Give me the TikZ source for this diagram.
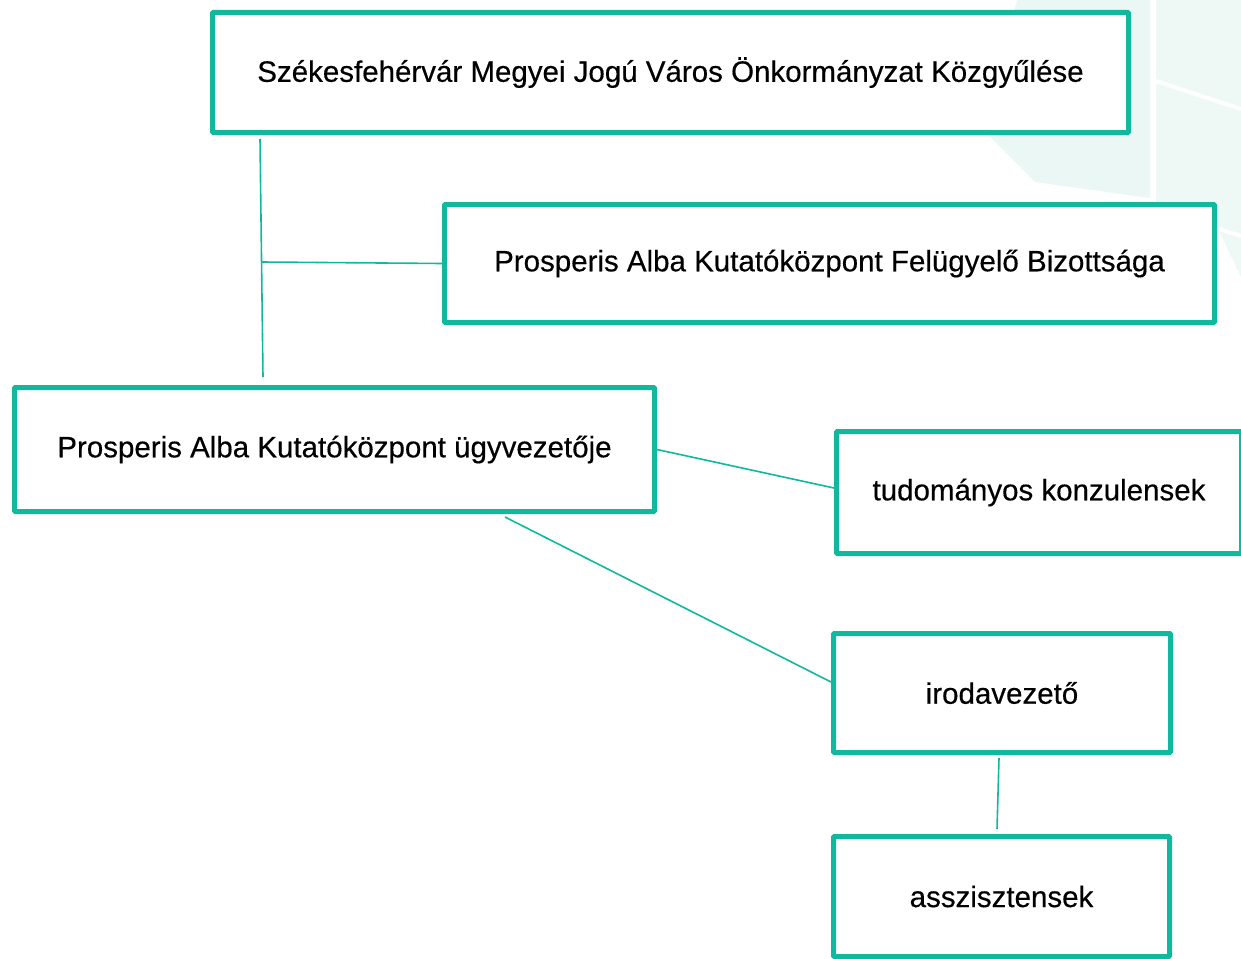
\documentclass[tikz,border=0pt]{standalone}
\usepackage{fontspec}
\setmainfont{Liberation Sans}
\newfontfamily\labfont{Liberation Sans}[FakeBold=0.4]
\usetikzlibrary{calc}
\definecolor{teal1}{RGB}{16,185,157}
\definecolor{shadeA}{RGB}{234,247,244}
\definecolor{shadeB}{RGB}{238,249,246}
\begin{document}
\begin{tikzpicture}[x=1pt,y=-1pt,
  box/.style={draw=teal1,line width=5pt,fill=white,rounded corners=1pt,inner sep=0pt,
    font=\labfont\fontsize{29.5}{34}\selectfont,text=black},
  conn/.style={draw=teal1,line width=1.6pt}]
\useasboundingbox (0,0) rectangle (1241,958);
\fill[white] (0,0) rectangle (1241,958);
% background decoration
\fill[shadeA] (1017,0) -- (1150,0) -- (1150,198) -- (1035,182) -- (985,132) -- cycle;
\fill[shadeB] (1156,0) -- (1241,0) -- (1241,277) -- (1220,233) -- (1156,215) -- cycle;
\draw[white,line width=4pt] (1153,80) -- (1241,109);
\draw[white,line width=4pt] (1216,228) -- (1241,236);
% boxes
\node[box,minimum width=916,minimum height=120] (n1) at (670.5,72.5) {Székesfehérvár Megyei Jogú Város Önkormányzat Közgyűlése};
\node[box,minimum width=770,minimum height=118] (n2) at (829.5,263.5) {Prosperis Alba Kutatóközpont Felügyelő Bizottsága};
\node[box,minimum width=640,minimum height=124] (n3) at (334.5,449.5) {Prosperis Alba Kutatóközpont ügyvezetője};
\node[box,minimum width=405,minimum height=122] (n4) at (1039,492.5) {tudományos konzulensek};
\node[box,minimum width=337,minimum height=119] (n5) at (1002,693) {irodavezető};
\node[box,minimum width=336,minimum height=120] (n6) at (1001.5,896.5) {asszisztensek};
% connectors
\coordinate (a1) at (260,139);
\coordinate (a2) at (263,377);
\coordinate (j) at (262,262);
\draw[conn] (a1) -- (a2);
\draw[conn] (j) -- (n2.west);
\draw[conn] (n3.east) -- ($(n4.west)+(0,-4.5)$);
\coordinate (b1) at (505,517);
\draw[conn] (b1) -- ($(n5.west)+(0,-11)$);
\coordinate (c1) at (999,758);
\coordinate (c2) at (997,829);
\draw[conn] (c1) -- (c2);
\end{tikzpicture}
\end{document}
